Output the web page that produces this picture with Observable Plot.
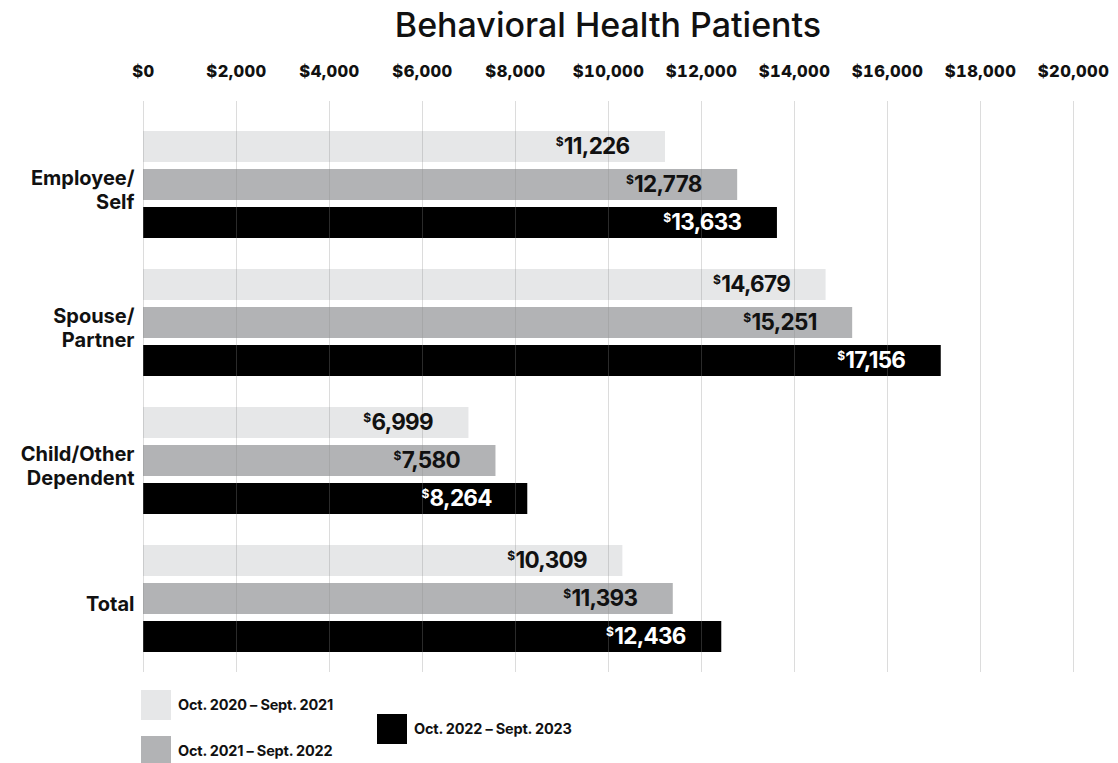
<!DOCTYPE html>
<html><head><meta charset="utf-8">
<script src="https://cdn.jsdelivr.net/npm/d3@7"></script>
<script src="https://cdn.jsdelivr.net/npm/@observablehq/plot@0.6"></script>
<style>
body{margin:0;background:#fff;overflow:hidden;font-family:Inter,sans-serif;color:#111;}
#title{height:50px;box-sizing:border-box;padding-left:143px;padding-right:45px;text-align:center;font-size:34px;font-weight:500;line-height:50px;}
#chart svg{display:block;}
#legend{position:relative;height:78px;}
.sw{position:absolute;width:30px;height:30px;}
.lt{position:absolute;font-size:14.5px;font-weight:700;line-height:30px;white-space:nowrap;letter-spacing:-0.2px;}
</style></head>
<body>
<div id="title">Behavioral Health Patients</div>
<div id="chart"></div>
<div id="legend"></div>
<script>
const categories = ["Employee/\nSelf", "Spouse/\nPartner", "Child/Other\nDependent", "Total"];
const periods = ["Oct. 2020 – Sept. 2021", "Oct. 2021 – Sept. 2022", "Oct. 2022 – Sept. 2023"];
const values2021 = [11226, 14679, 6999, 10309];
const values2022 = [12778, 15251, 7580, 11393];
const values2023 = [13633, 17156, 8264, 12436];
const xTicks = [0, 2000, 4000, 6000, 8000, 10000, 12000, 14000, 16000, 18000, 20000];
const colors = ["#e6e7e8", "#b2b3b5", "#000000"];

const series = [values2021, values2022, values2023];
const rows = categories.flatMap((c, i) => periods.map((p, j) => ({category: c, period: p, value: series[j][i]})));
const grid = categories.flatMap(c => xTicks.map(t => ({category: c, tick: t})));
const fmt = d3.format(",");

const gridMarks = categories.map((c, i) => Plot.ruleX(grid.filter(d => d.category === c), {
  x: "tick", fy: "category", stroke: "#8a8a8a", strokeOpacity: 0.3, strokeWidth: 1,
  insetTop: i === 0 ? -15 : 0, insetBottom: i === categories.length - 1 ? -4 : 0
}));

const labelOpts = {x: "value", y: "period", fy: "category", text: d => fmt(d.value),
  textAnchor: "end", dx: -35, fontSize: 22.5, fontWeight: 700, ariaDescription: "value-label"};

const svg = Plot.plot({
  width: 1118, height: 635,
  marginTop: 65, marginBottom: 16, marginLeft: 143, marginRight: 45,
  style: {fontFamily: "Inter, sans-serif", background: "#fff"},
  x: {domain: [0, 20000], axis: null},
  y: {domain: periods, axis: null, paddingInner: 0.18, paddingOuter: 0.365},
  fy: {domain: categories, axis: null, padding: 0},
  color: {domain: periods, range: colors},
  marks: [
    Plot.barX(rows, {x: "value", y: "period", fy: "category", fill: "period"}),
    ...gridMarks,
    Plot.text(rows.filter(d => d.period !== periods[2]), {...labelOpts, fill: "#111"}),
    Plot.text(rows.filter(d => d.period === periods[2]), {...labelOpts, fill: "#fff"}),
    Plot.text(categories, {fy: d => d, text: d => d, frameAnchor: "left", textAnchor: "end",
      dx: -9, dy: 4, fontSize: 20, fontWeight: 700, lineHeight: 1.2, fill: "#111"}),
    Plot.axisX({anchor: "top", ticks: xTicks, tickSize: 0, tickPadding: 40, label: null,
      tickFormat: d => "$" + fmt(d), fontSize: 16.5, fontWeight: 800, fill: "#111",
      ariaDescription: "x-ticks"})
  ]
});

d3.select(svg).selectAll('[aria-description="value-label"] text').each(function () {
  const t = this.textContent;
  const s = d3.select(this);
  s.text(null).attr("letter-spacing", -0.7);
  s.append("tspan").attr("font-size", 12).attr("dy", -8).attr("dx", -1).text("$");
  s.append("tspan").attr("dy", 8).attr("dx", 1).text(t);
});
d3.select(svg).selectAll('[aria-description="x-ticks"] text').attr("letter-spacing", 0.4);

document.getElementById("chart").appendChild(svg);

const legendPos = [[141, 5], [141, 51], [377, 29]];
const legend = document.getElementById("legend");
periods.forEach((p, i) => {
  const [x, y] = legendPos[i];
  const sw = document.createElement("div");
  sw.className = "sw";
  sw.style.left = x + "px"; sw.style.top = y + "px"; sw.style.background = colors[i];
  legend.appendChild(sw);
  const lt = document.createElement("div");
  lt.className = "lt";
  lt.style.left = (x + 37) + "px"; lt.style.top = y + "px";
  lt.textContent = p;
  legend.appendChild(lt);
});
</script>
</body></html>
